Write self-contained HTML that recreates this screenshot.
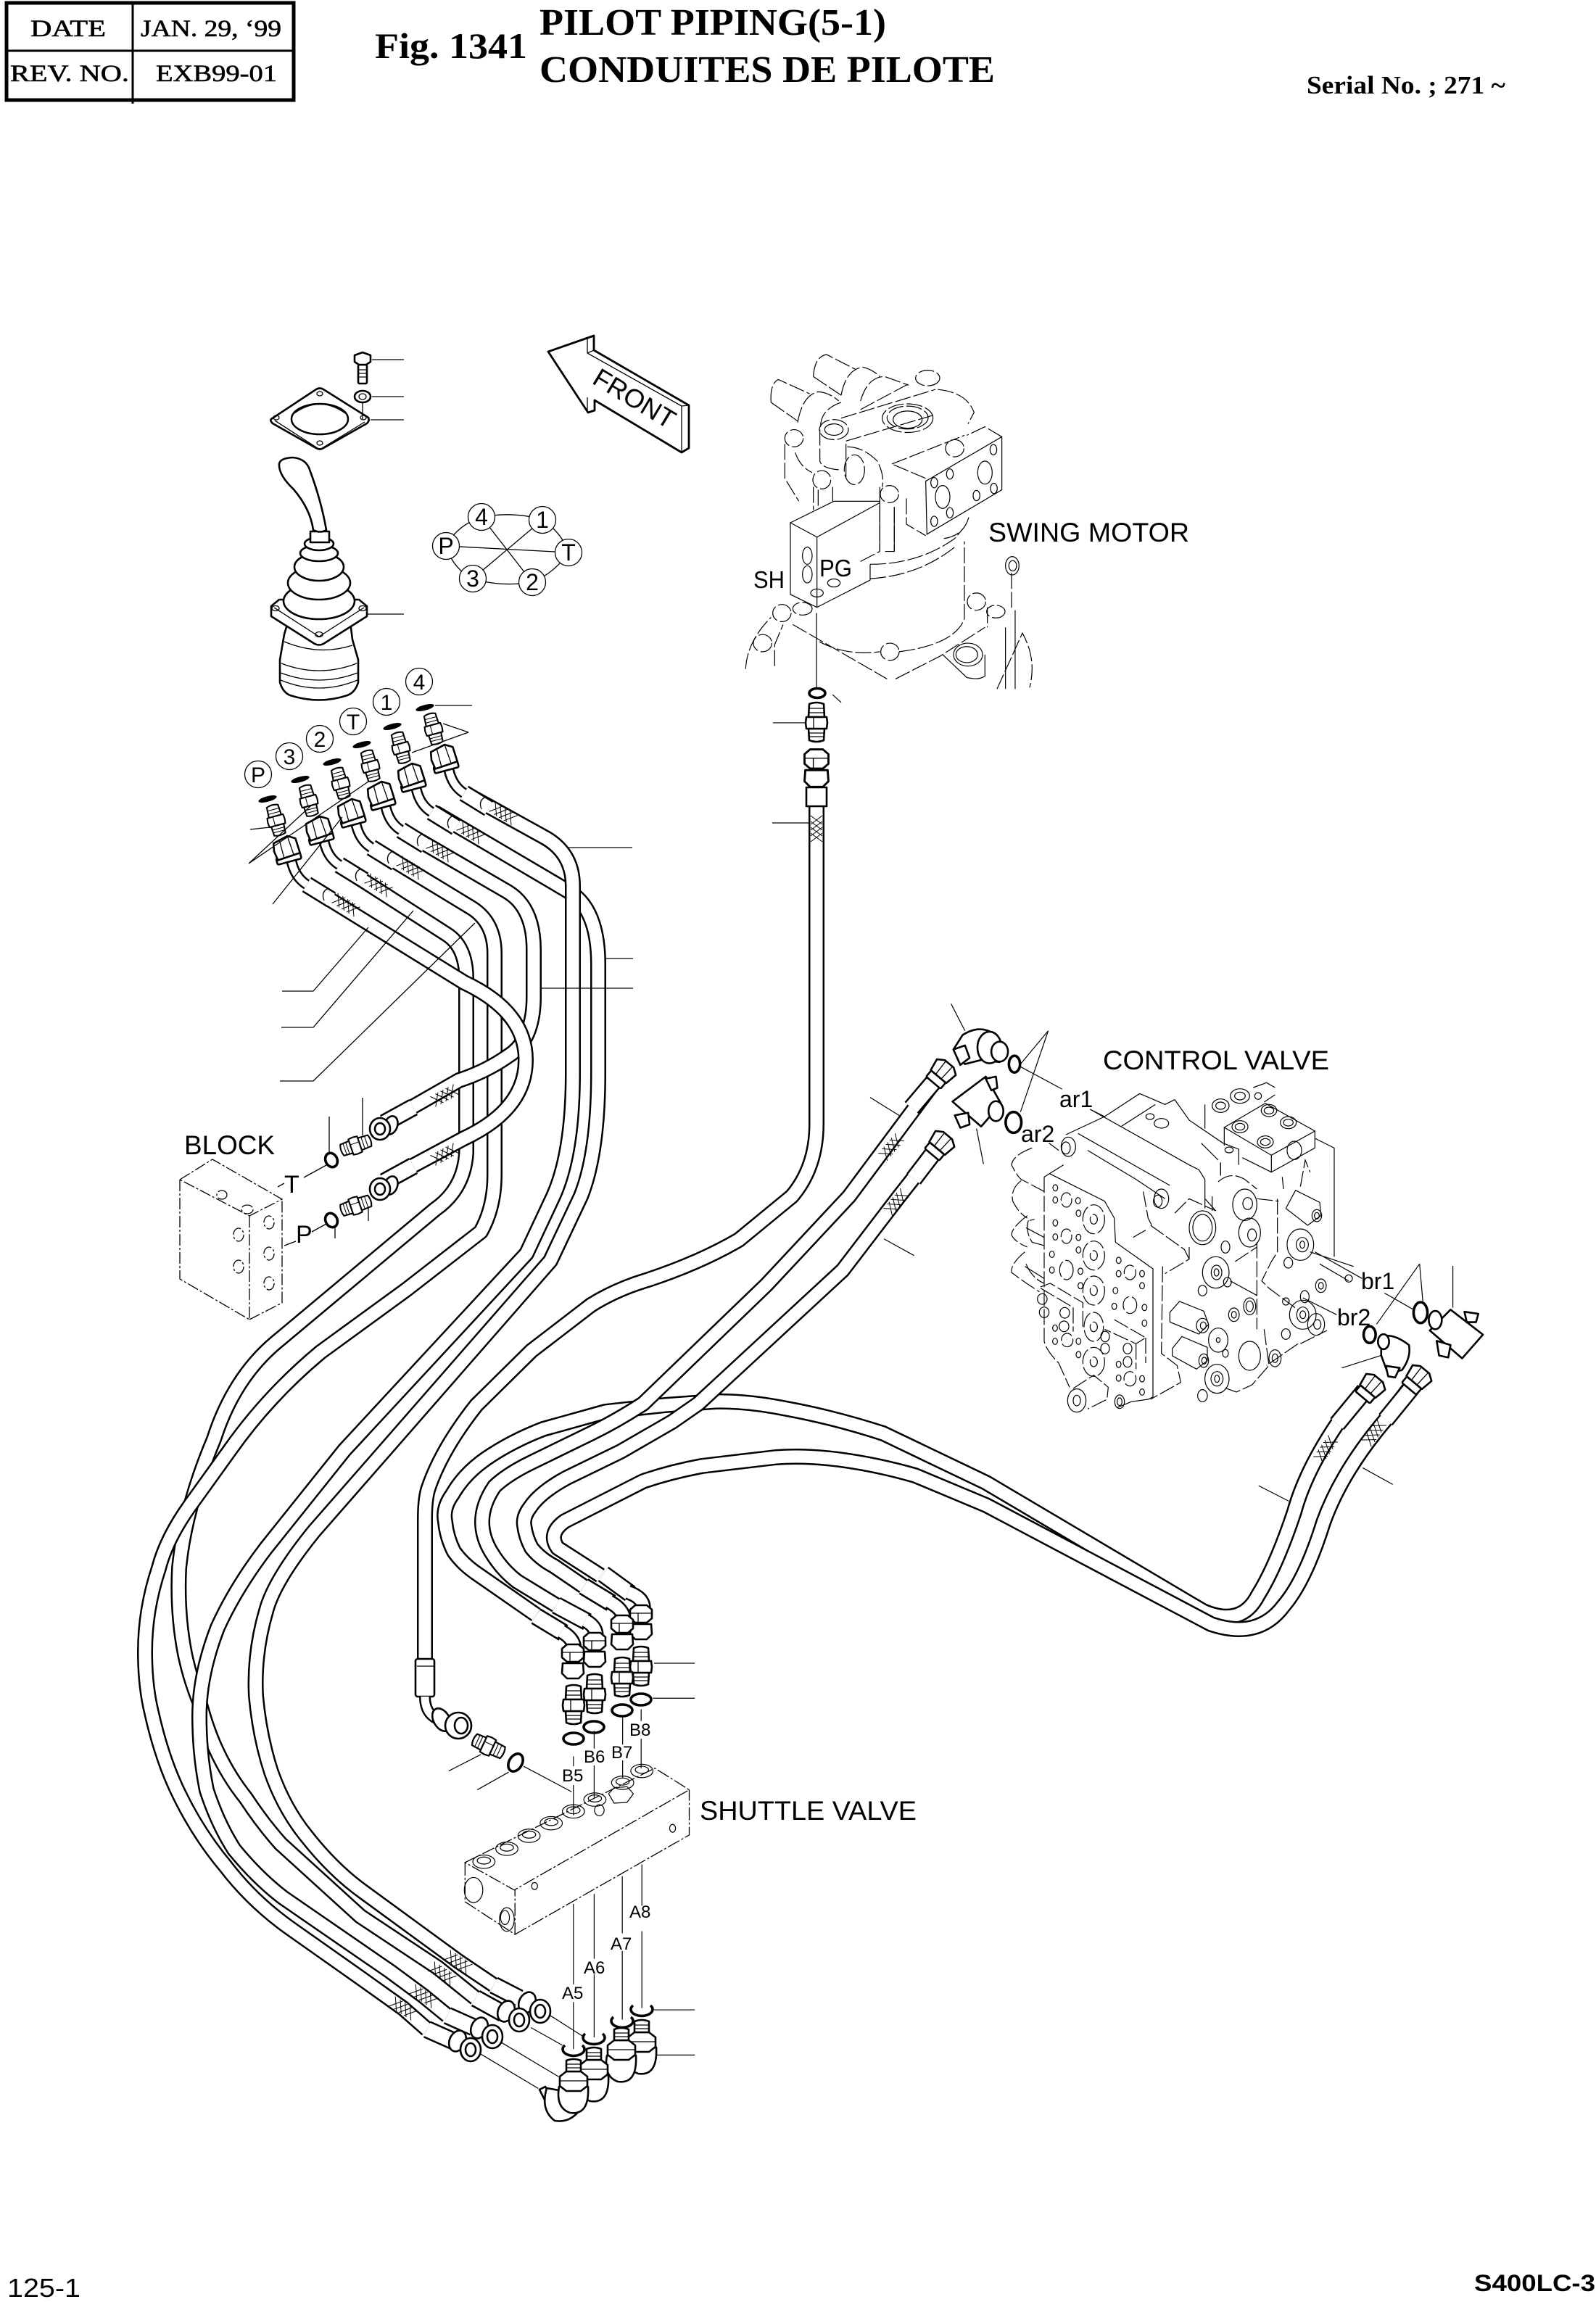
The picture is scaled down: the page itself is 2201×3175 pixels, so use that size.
<!DOCTYPE html>
<html><head><meta charset="utf-8"><style>
html,body{margin:0;padding:0;background:#fff}
svg{display:block}
text{font-family:"Liberation Sans",sans-serif;fill:#000}
.s{font-family:"Liberation Serif",serif;font-weight:bold}
.z *{vector-effect:non-scaling-stroke}
.th{fill:none;stroke:#000;stroke-width:1.2}
.da{fill:none;stroke:#000;stroke-width:1.2;stroke-dasharray:22 4}
.f{fill:#fff;stroke:#000;stroke-width:2.6;stroke-linejoin:round}
.ln{fill:none;stroke:#000;stroke-width:1.3}
.o{fill:none;stroke:#000;stroke-width:3.6}
</style></head><body>
<svg xmlns="http://www.w3.org/2000/svg" width="2201" height="3175" viewBox="0 0 2201 3175">
<rect width="2201" height="3175" fill="#fff"/>
<defs>
<path id="h1" d="M600 1121L785 1230Q825 1254 825 1330L825 1480Q825 1590 801 1650L759 1739L531 2000L433 2112Q378 2180 367 2222Q350 2280 353 2339Q358 2395 374 2444Q392 2495 423 2533Q460 2580 502 2610L632 2705L681 2738"/>
<path id="h4" d="M641 1094L753 1156Q790 1178 790 1222L790 1480Q790 1590 763 1650L726 1729L475 2000L367 2135Q325 2190 300 2245Q275 2310 275 2367Q275 2420 285 2469Q300 2515 323 2551Q355 2590 390 2617L538 2719L584 2753L617 2780"/>
<path id="h3" d="M472 1196L615 1288Q643 1305 643 1350L643 1590Q640 1640 600 1668L380 1852Q322 1901 295 1985Q255 2080 247 2163Q244 2225 255 2281Q262 2315 275 2347Q285 2385 298 2413Q315 2450 339 2480Q362 2515 387 2543L497 2643L604 2714L656 2756"/>
<path id="h2" d="M515 1170L650 1252Q682 1272 682 1315L682 1620Q682 1665 663 1699L560 1779L442 1865Q370 1925 317 2000L266 2071Q230 2120 219 2163Q200 2220 200 2278Q200 2325 209 2362Q222 2420 242 2464Q270 2525 311 2574Q350 2625 405 2663L500 2730L556 2770L589 2799"/>
<path id="hT" d="M557 1147L700 1230Q736 1252 736 1310L736 1375Q736 1435 700 1457Q670 1478 633 1490L530 1549"/>
<path id="hP" d="M428 1224L640 1355Q725 1395 725 1462Q725 1530 640 1570L530 1629"/>
<path id="hG" d="M1126 1090L1126 1550Q1126 1610 1092 1650L1019 1710Q966 1741 894 1765Q850 1778 815 1800L733 1863L657 1938Q608 2000 590 2055Q586 2070 586 2095L586 2300"/>
<path id="b1" d="M1892 1908L1844 1964Q1800 2030 1785 2085Q1760 2160 1735 2200Q1712 2245 1659 2222L1360 2045L1218 1977Q1150 1955 1085 1943Q1030 1932 986 1933L917 1938L835 1947L749 1971Q705 1988 670 2012Q640 2033 624 2061Q610 2080 614 2099Q616 2120 626 2140Q638 2157 657 2170L739 2227"/>
<path id="b2" d="M1956 1898L1911 1958Q1850 2030 1825 2100Q1800 2180 1770 2215Q1735 2262 1670 2240L1360 2076L1262 2035Q1210 2020 1157 2013Q1110 2007 1070 2010L968 2022Q925 2030 887 2043L779 2098Q755 2115 769 2135L828 2173"/>
<path id="r1" d="M1296 1482L1171 1650L1057 1772L887 1936Q850 1960 815 1977L733 2017Q700 2033 682 2050Q665 2075 665 2099Q665 2120 677 2140Q692 2165 713 2181L767 2214"/>
<path id="r2" d="M1295 1580L1240 1650L1162 1752L963 1936L927 1961L856 2002L782 2038Q745 2058 731 2079Q721 2092 723 2104Q725 2120 733 2135Q745 2150 764 2160L805 2188"/>
<g id="mesh" fill="none" stroke="#000" stroke-width="1"><path d="M-18 -8L-6 8M-10 -8L2 8M-2 -8L10 8M6 -8L18 8M-18 8L-6 -8M-10 8L2 -8M-2 8L10 -8M6 8L18 -8"/></g>
<g id="nv"><path class="f" d="M-10 -26Q0 -30 10 -26L11 -8L-11 -8Z"/><path class="f" d="M-11 8L11 8L10 24Q0 28 -10 24Z"/><path class="f" d="M-14 -8L14 -8L15 0L14 8L-14 8L-15 0Z"/><path class="ln" d="M-4 -8V8M-10 -20H10M-11 -14H11M-11 14H11M-10 19H10"/></g>
<g id="dn"><path class="f" d="M-14 2L14 2L15 16L8 23L-8 23L-15 16Z"/><path class="f" d="M-15 -18L-8 -24L8 -24L15 -18L15 -6L8 0L-8 0L-15 -6Z"/><path class="ln" d="M-15 -13H15M-4 -13V0"/></g>
<g id="rn"><rect class="f" x="-20" y="-13" width="11" height="26" rx="2"/><path class="f" d="M-9 -14L8 -17L14 -8L14 8L8 17L-9 14Z"/><path class="ln" d="M-9 -5L14 -6M-9 5L14 6"/></g>
<g id="port">
<ellipse rx="13" ry="3.8" transform="rotate(-15)" fill="#000"/>
<g transform="translate(12 30) rotate(-15) scale(.8)"><use href="#nv"/></g>
<path d="M33 86Q38 108 54 118" fill="none" stroke="#000" stroke-width="15"/>
<path d="M33 86Q38 108 54 118" fill="none" stroke="#fff" stroke-width="10"/>
<g transform="translate(26 70) rotate(-15)"><rect class="f" x="-17" y="8" width="34" height="9" rx="2"/><path class="f" d="M-15 -13L6 -18L16 -12L17 9L-15 11L-17 -2Z"/><path class="ln" d="M-6 -15L-6 10M6 -18L8 9"/></g>
<path d="M54 118L88 139" fill="none" stroke="#000" stroke-width="24"/>
<path d="M54 118L88 139" fill="none" stroke="#fff" stroke-width="19"/>
<path class="ln" stroke-width="2" d="M84 123Q73 128 78 140"/>
<g transform="translate(108 146) rotate(32)"><use href="#mesh"/></g>
</g>
<g id="bfit">
<g transform="translate(490 1580) rotate(71) scale(.8)"><use href="#nv"/></g>
<ellipse class="f" cx="539" cy="1552" rx="9" ry="13" transform="rotate(20 539 1552)"/>
<ellipse class="f" cx="524" cy="1557" rx="14" ry="15" stroke-width="3"/>
<ellipse class="f" cx="524" cy="1557" rx="7" ry="8"/>
<ellipse cx="457" cy="1600" rx="8" ry="10" class="o" transform="rotate(-25 457 1600)"/>
</g>
<g id="nutE"><ellipse class="f" cx="-18" cy="-12" rx="11" ry="15" transform="rotate(25 -18 -12)"/><ellipse class="f" cx="0" cy="0" rx="14" ry="16" stroke-width="3"/><ellipse class="f" cx="0" cy="0" rx="7" ry="9"/></g>
<g id="elb"><path class="f" d="M-20 6Q-25 35 -5 42Q22 46 20 6Z"/><path class="f" d="M-19 -8L-10 -15L10 -15L19 -8L19 5L10 12L-10 12L-19 5Z"/><path class="f" d="M-10 -15L-10 -30Q0 -34 10 -30L10 -15Z"/><path class="ln" d="M-10 -25H10M-10 -20H10M-19 -2H19"/></g>
</defs>

<!-- header -->
<rect x="9" y="4" width="396" height="134" fill="none" stroke="#000" stroke-width="5"/>
<path d="M183 4V143M9 70H405" stroke="#000" stroke-width="3" fill="none"/>
<text class="s" x="42" y="50" font-size="33" textLength="104" lengthAdjust="spacingAndGlyphs" style="font-weight:normal" stroke="#000" stroke-width=".6">DATE</text>
<text class="s" x="194" y="50" font-size="33" textLength="194" lengthAdjust="spacingAndGlyphs" style="font-weight:normal" stroke="#000" stroke-width=".6">JAN. 29, ‘99</text>
<text class="s" x="14" y="112" font-size="33" textLength="164" lengthAdjust="spacingAndGlyphs" style="font-weight:normal" stroke="#000" stroke-width=".6">REV. NO.</text>
<text class="s" x="215" y="112" font-size="33" textLength="167" lengthAdjust="spacingAndGlyphs" style="font-weight:normal" stroke="#000" stroke-width=".6">EXB99-01</text>
<text class="s" x="517" y="80" font-size="50" textLength="210" lengthAdjust="spacingAndGlyphs">Fig. 1341</text>
<text class="s" x="744" y="48" font-size="52" textLength="478" lengthAdjust="spacingAndGlyphs">PILOT PIPING(5-1)</text>
<text class="s" x="744" y="113" font-size="52" textLength="628" lengthAdjust="spacingAndGlyphs">CONDUITES DE PILOTE</text>
<text class="s" x="1802" y="129" font-size="35" textLength="274" lengthAdjust="spacingAndGlyphs">Serial No. ; 271 ~</text>

<!-- hoses -->
<g fill="none" stroke-linejoin="round">
<g stroke="#000" stroke-width="22"><use href="#h1"/></g><g stroke="#fff" stroke-width="17"><use href="#h1"/></g>
<g stroke="#000" stroke-width="22"><use href="#h3"/></g><g stroke="#fff" stroke-width="17"><use href="#h3"/></g>
<g stroke="#000" stroke-width="22"><use href="#h2"/></g><g stroke="#fff" stroke-width="17"><use href="#h2"/></g>
<g stroke="#000" stroke-width="22"><use href="#h4"/></g><g stroke="#fff" stroke-width="17"><use href="#h4"/></g>
<g stroke="#000" stroke-width="22"><use href="#hT"/></g><g stroke="#fff" stroke-width="17"><use href="#hT"/></g>
<g stroke="#000" stroke-width="22"><use href="#hP"/></g><g stroke="#fff" stroke-width="17"><use href="#hP"/></g>
<g stroke="#000" stroke-width="22"><use href="#hG"/></g><g stroke="#fff" stroke-width="17"><use href="#hG"/></g>
<g stroke="#000" stroke-width="22"><use href="#b1"/></g><g stroke="#fff" stroke-width="17"><use href="#b1"/></g>
<g stroke="#000" stroke-width="22"><use href="#b2"/></g><g stroke="#fff" stroke-width="17"><use href="#b2"/></g>
<g stroke="#000" stroke-width="22"><use href="#r1"/></g><g stroke="#fff" stroke-width="17"><use href="#r1"/></g>
<g stroke="#000" stroke-width="22"><use href="#r2"/></g><g stroke="#fff" stroke-width="17"><use href="#r2"/></g>
<path d="M530 1549L570 1527M530 1630L570 1608M1296 1482L1257 1528M1289 1588L1260 1626M1882 1918L1844 1964M1946 1915L1911 1958M832 2171L869 2198M805 2188L843 2211M767 2214L810 2237M739 2229L777 2252M681 2738L716 2756M656 2756L694 2777M617 2780L653 2796M589 2799L625 2815" stroke="#000" stroke-width="25"/>
<path d="M530 1549L570 1527M530 1630L570 1608M1296 1482L1257 1528M1289 1588L1260 1626M1882 1918L1844 1964M1946 1915L1911 1958M832 2171L869 2198M805 2188L843 2211M767 2214L810 2237M739 2229L777 2252M681 2738L716 2756M656 2756L694 2777M617 2780L653 2796M589 2799L625 2815" stroke="#fff" stroke-width="20"/>
</g>

<!-- meshes -->
<g transform="translate(613 1511) rotate(-28)"><use href="#mesh"/></g>
<g transform="translate(613 1592) rotate(-28)"><use href="#mesh"/></g>
<g transform="translate(1126 1143) rotate(90)"><use href="#mesh"/></g>
<g transform="translate(1229 1582) rotate(-50)"><use href="#mesh"/></g>
<g transform="translate(1236 1658) rotate(-50)"><use href="#mesh"/></g>
<g transform="translate(1828 1999) rotate(-55)"><use href="#mesh"/></g>
<g transform="translate(1895 1976) rotate(-55)"><use href="#mesh"/></g>
<g transform="translate(632 2706) rotate(33)"><use href="#mesh"/></g>
<g transform="translate(610 2722) rotate(33)"><use href="#mesh"/></g>
<g transform="translate(584 2753) rotate(33)"><use href="#mesh"/></g>
<g transform="translate(556 2770) rotate(33)"><use href="#mesh"/></g>

<!-- joystick ports -->
<use href="#port" transform="translate(586 976)"/>
<use href="#port" transform="translate(541 1002)"/>
<use href="#port" transform="translate(499 1027)"/>
<use href="#port" transform="translate(458 1051)"/>
<use href="#port" transform="translate(414 1075)"/>
<use href="#port" transform="translate(369 1102)"/>
<g fill="#fff" stroke="#000" stroke-width="1.3">
<circle cx="356" cy="1068" r="18.5"/><circle cx="399" cy="1043" r="18.5"/><circle cx="441" cy="1019" r="18.5"/><circle cx="487" cy="995" r="18.5"/><circle cx="533" cy="968" r="18.5"/><circle cx="578" cy="940" r="18.5"/>
</g>
<g font-size="30" text-anchor="middle">
<text x="356" y="1079">P</text><text x="399" y="1054">3</text><text x="441" y="1019" dy="11">2</text><text x="487" y="1006">T</text><text x="533" y="979">1</text><text x="578" y="951">4</text>
</g>

<!-- block fittings -->
<use href="#bfit"/><use href="#bfit" transform="translate(0 83)"/>

<!-- leaders -->
<path class="ln" d="M600 973H651M646 1010L611 998M646 1010L568 1038M343 1191L428 1112M343 1191L508 1078M345 1144L372 1141M376 1247L472 1127M389 1367H432L508 1279M388 1417H432L570 1256M386 1491H432L655 1273M783 1169H872M836 1322H873M747 1363H873M500 1514V1566M454 1540V1592M419 1624L450 1607M430 1699L450 1688M462 1691V1708M508 1666V1684M392 1718L408 1712M383 1637L392 1632"/>
<text x="254" y="1592" font-size="37" textLength="125" lengthAdjust="spacingAndGlyphs">BLOCK</text>
<text x="392" y="1645" font-size="34">T</text>
<text x="408" y="1714" font-size="34">P</text>

<!-- block box -->
<g fill="none" stroke="#000" stroke-width="1.3" stroke-dasharray="16 3 3 3">
<path d="M248 1627L293 1599L389 1654L344 1677ZM248 1627V1764L344 1820V1677M344 1820L389 1797V1654"/>
<ellipse cx="306" cy="1648" rx="7" ry="6"/><ellipse cx="341" cy="1668" rx="8" ry="6"/><ellipse cx="329" cy="1703" rx="7" ry="9"/><ellipse cx="329" cy="1747" rx="7" ry="9"/><ellipse cx="371" cy="1686" rx="7" ry="9"/><ellipse cx="371" cy="1729" rx="7" ry="9"/><ellipse cx="371" cy="1770" rx="7" ry="9"/>
</g>

<!-- gasket, bolt -->
<path class="f" stroke-width="3" d="M374 578L436 537Q441 534 446 537L508 576Q510 580 506 584L446 618Q441 621 436 618L376 584Q372 580 374 578Z"/>
<path class="ln" d="M379 580L441 620L503 582"/>
<ellipse cx="441" cy="578" rx="39" ry="21" fill="#fff" stroke="#000" stroke-width="2.5"/>
<path class="ln" d="M406 570Q441 545 476 570"/>
<g class="ln"><ellipse cx="441" cy="543" rx="4" ry="3"/><ellipse cx="381" cy="576" rx="4" ry="3"/><ellipse cx="501" cy="576" rx="4" ry="3"/><ellipse cx="441" cy="611" rx="4" ry="3"/></g>
<rect class="f" x="494" y="503" width="12" height="26" rx="2"/>
<path class="ln" d="M495 510H505M495 515H505M495 520H505"/>
<path class="f" d="M489 490L500 486L511 490L511 499L505 503L495 503L489 499Z"/>
<ellipse class="f" cx="500" cy="547" rx="11" ry="8"/><ellipse class="ln" cx="500" cy="547" rx="5" ry="4"/>
<path class="ln" d="M500 556V578M513 496H557M513 547H557M511 579H557M506 847H557"/>

<!-- joystick -->
<path class="f" stroke-width="3" d="M397 858L392 875L386 910L386 941Q390 955 400 959Q440 972 479 959Q490 955 494 941L494 910L486 882L483 858Z"/>
<path class="ln" d="M388 915Q440 935 492 915M387 928Q440 948 493 928M387 938Q440 960 493 938M392 885Q440 905 486 890"/>
<path class="f" stroke-width="3" d="M374 836L385 827L495 827L506 836L506 850L446 888Q440 891 434 888L374 850Z"/>
<path class="ln" d="M378 838L440 878L502 838"/><ellipse class="ln" cx="380" cy="839" rx="5" ry="3.5"/><ellipse class="ln" cx="500" cy="839" rx="5" ry="3.5"/><ellipse class="ln" cx="440" cy="875" rx="5" ry="3.5"/>
<g class="f" stroke-width="3">
<ellipse cx="440" cy="829" rx="49" ry="25"/><ellipse cx="440" cy="804" rx="43" ry="23"/><ellipse cx="440" cy="782" rx="34" ry="19"/><ellipse cx="440" cy="763" rx="26" ry="11"/><ellipse cx="440" cy="750" rx="20" ry="9"/>
<rect x="428" y="733" width="26" height="15"/>
</g>
<path class="f" stroke-width="3" d="M432 731Q428 702 405 675Q384 655 385 640Q386 632 403 631Q420 632 426 645Q443 690 450 731Q442 736 432 731Z"/>

<!-- connector diagram -->
<path class="ln" d="M615 753L784 762M664 713L734 803M748 717L652 798M615 753Q630 725 664 713M664 713Q710 705 748 717M748 717Q775 735 784 762M784 762Q765 790 734 803M734 803Q690 810 652 798M652 798Q625 785 615 753"/>
<g fill="#fff" stroke="#000" stroke-width="1.3"><circle cx="664" cy="713" r="18.5"/><circle cx="748" cy="717" r="18.5"/><circle cx="784" cy="762" r="18.5"/><circle cx="734" cy="803" r="18.5"/><circle cx="652" cy="798" r="18.5"/><circle cx="615" cy="753" r="18.5"/></g>
<g font-size="32" text-anchor="middle"><text x="664" y="724">4</text><text x="748" y="728">1</text><text x="784" y="773">T</text><text x="734" y="814">2</text><text x="652" y="809">3</text><text x="615" y="764">P</text></g>

<!-- front arrow -->
<path fill="#fff" stroke="#000" stroke-width="2.8" stroke-linejoin="round" d="M756 485L819 463L819 483L950 559L950 618L940 624L820 552L820 566L811 569Z"/>
<path class="ln" d="M810 467V487L940 560V622M810 548V568M810 487L819 483M940 560L950 559"/>
<text x="815" y="528" font-size="36" transform="rotate(31 815 528)" textLength="125" lengthAdjust="spacingAndGlyphs">FRONT</text>

<!-- swing motor (zoom coords) -->
<g class="z" transform="translate(1000 470) scale(.3333 .3953)">
<g class="da">
<path d="M190 215Q185 150 220 135L350 185M190 215L300 280M300 285Q320 190 385 178Q430 180 470 210M365 125Q370 55 420 48L540 100M365 125L480 190M480 190Q500 100 570 92Q610 100 640 125M560 210Q590 125 660 125L760 155M480 270L870 170M560 240L760 150M395 300Q395 240 480 215M500 350L860 260M880 170Q1000 180 1030 250L1005 290M392 310L392 420Q400 445 470 450M247 360L247 480L305 560M290 390Q310 440 360 460M365 510L365 590M385 520L385 585M445 510L445 560M505 370Q570 370 630 420Q660 470 650 510M690 430L990 330M1145 335L1075 300L1000 330M830 480L690 430M560 770L640 735M600 830Q800 820 950 720M600 780Q800 780 950 690L990 650M390 1050Q500 1100 640 1085M720 1085Q950 1060 990 970L990 700M280 990L670 1180M705 1180L890 1100L1075 1000M85 1145Q90 1050 190 965M205 1135V1060L240 990M1085 930L1085 1000M1125 1215L1230 1020Q1290 1110 1260 1210M500 360V480M640 510V735M700 580V735L650 735M750 550V640L830 680M905 690Q990 680 1010 610"/>
<path d="M1185 810V940"/>
<ellipse cx="838" cy="130" rx="50" ry="27"/><ellipse cx="755" cy="270" rx="105" ry="50"/><ellipse cx="755" cy="268" rx="85" ry="40"/><ellipse cx="450" cy="310" rx="60" ry="35"/><ellipse cx="285" cy="340" rx="38" ry="30"/><ellipse cx="400" cy="485" rx="37" ry="32"/>
<ellipse cx="535" cy="450" rx="42" ry="52"/><ellipse cx="680" cy="535" rx="38" ry="30"/><ellipse cx="950" cy="375" rx="38" ry="30"/>
<ellipse cx="235" cy="950" rx="38" ry="30"/><ellipse cx="155" cy="1055" rx="38" ry="30"/><ellipse cx="682" cy="1085" rx="38" ry="30"/><ellipse cx="1040" cy="910" rx="38" ry="30"/><ellipse cx="1120" cy="945" rx="38" ry="22"/><ellipse cx="320" cy="935" rx="40" ry="22"/>
</g>
<g class="th">
<ellipse cx="755" cy="275" rx="60" ry="30"/><ellipse cx="450" cy="310" rx="38" ry="20"/><path d="M830 490L1145 335V520L835 675Z"/>
<path d="M270 635L450 560L640 560M270 635L380 685V930L270 885ZM380 685L640 565M380 930L600 835V780M640 565V735M700 580V735"/>
<ellipse cx="1005" cy="1095" rx="60" ry="40"/><ellipse cx="1000" cy="1095" rx="45" ry="28"/>
<ellipse cx="1188" cy="785" rx="28" ry="32"/><ellipse cx="1190" cy="785" rx="16" ry="18"/>
<path d="M1160 1000V1215M1200 940V1215M1075 1095V1170Q1050 1185 1000 1175L900 1095M378 950V1210M445 1235L480 1262M198 1333H332"/>
<ellipse cx="340" cy="750" rx="20" ry="30"/><ellipse cx="340" cy="815" rx="20" ry="30"/><ellipse cx="900" cy="545" rx="30" ry="40"/><ellipse cx="1075" cy="460" rx="30" ry="40"/><ellipse cx="450" cy="845" rx="26" ry="14"/><ellipse cx="380" cy="880" rx="26" ry="14"/><ellipse cx="865" cy="630" rx="14" ry="18"/><ellipse cx="930" cy="600" rx="14" ry="18"/><ellipse cx="1040" cy="540" rx="14" ry="18"/><ellipse cx="1112" cy="515" rx="14" ry="18"/><ellipse cx="930" cy="465" rx="14" ry="18"/><ellipse cx="1110" cy="380" rx="14" ry="18"/><ellipse cx="865" cy="495" rx="14" ry="18"/>
</g>
</g>
<text x="1363" y="747" font-size="37" textLength="277" lengthAdjust="spacingAndGlyphs">SWING MOTOR</text>
<text x="1039" y="811" font-size="33" textLength="43" lengthAdjust="spacingAndGlyphs">SH</text>
<text x="1130" y="795" font-size="33" textLength="45" lengthAdjust="spacingAndGlyphs">PG</text>
<ellipse cx="1127" cy="956" rx="11" ry="6.5" class="o"/>
<use href="#nv" transform="translate(1126 997)"/>
<use href="#dn" transform="translate(1126 1060) scale(1.1)"/>
<rect class="f" x="1112" y="1086" width="28" height="26"/>
<path class="ln" d="M1065 1135H1116"/>
<rect class="f" x="573" y="2288" width="26" height="52" rx="3"/>
<path d="M586 2340Q586 2365 606 2372" fill="none" stroke="#000" stroke-width="16"/><path d="M586 2340Q586 2365 606 2372" fill="none" stroke="#fff" stroke-width="11"/>
<path class="ln" d="M575 2298H598"/>

<!-- left fitting by shuttle -->
<ellipse class="f" cx="609" cy="2372" rx="11" ry="17" transform="rotate(-30 609 2372)"/>
<ellipse class="f" cx="632" cy="2380" rx="18" ry="18" stroke-width="3"/><ellipse class="f" cx="636" cy="2380" rx="9" ry="11"/>
<g transform="translate(673 2408) rotate(115) scale(.85)"><use href="#nv"/></g>
<ellipse cx="711" cy="2431" rx="9" ry="13" class="o" transform="rotate(30 711 2431)"/>

<!-- control valve body (traced) -->
<g class="z" transform="translate(1380 1480) scale(.33333)">
<g class="th">
<path d="M270 255L430 180L575 85L680 130L720 110L780 195L920 290L985 315V380M370 150L780 380L820 400L845 440V520L890 570M925 225L1095 125L1300 240L1120 340ZM925 225V300M1120 340V410L1300 310V240M1120 410L1000 350M845 130V230M1135 60L1100 40L1045 60M1135 90L1090 120M1300 270L1380 310V760M910 370V420M180 430L260 380"/>
<path d="M200 415L430 530L470 600L475 700L630 810V1340L610 1350L540 1360L480 1385M320 250L700 465M360 320L560 440L680 520M500 220L640 130M830 290L900 360"/>
<path d="M1460 800L1280 740M1320 790L1440 860M950 860L1060 920M1250 930L1390 1000M1300 740L1495 850M370 150L430 180M200 290L240 320"/>
</g>
<g class="da">
<path d="M180 430V1110Q190 1150 240 1200L285 1300M130 310Q50 340 45 380Q70 430 85 440L180 490M85 445Q40 480 50 530Q75 580 110 600M110 590Q45 640 45 670Q60 700 110 720M100 740Q40 790 45 825Q90 860 160 905M115 610Q100 650 130 700L185 715M105 790Q130 850 180 870M670 800L665 1160L730 1210L745 1280L620 1350M780 720V770L680 830M548 680L600 650M620 630L760 730L780 770M910 370V425M900 450Q950 405 1010 440L1060 480M1060 700V1060M845 520V560M875 510V570M1060 520L1150 530M1145 520V740L1120 780L1080 860L1110 890L1230 980M1240 1120L1350 1065M1230 1120L1100 1210M1090 1060L1110 1210L1040 1290L975 1320L920 1300M970 780L1060 720M1165 430L1170 480M1240 470L1260 360L1280 410M720 580L780 520L890 570M590 490L610 600L630 640M165 885L205 870L340 950V1050M300 970V1070M165 890L300 970M470 1020L600 1095L560 1120L430 1060M560 1120V1225M600 1095V1200M300 1305L385 1250L445 1300L440 1350L360 1390"/>
</g>
<g class="th">
<ellipse cx="990" cy="95" rx="40" ry="30"/><ellipse cx="990" cy="95" rx="22" ry="16"/><ellipse cx="910" cy="135" rx="35" ry="28"/><ellipse cx="910" cy="135" rx="20" ry="15"/><ellipse cx="1065" cy="95" rx="14" ry="14"/><ellipse cx="1110" cy="155" rx="32" ry="25"/><ellipse cx="1190" cy="205" rx="33" ry="25"/><ellipse cx="990" cy="222" rx="33" ry="25"/><ellipse cx="1095" cy="285" rx="33" ry="25"/><ellipse cx="1215" cy="320" rx="30" ry="38"/><ellipse cx="1110" cy="155" rx="20" ry="14"/><ellipse cx="1190" cy="205" rx="20" ry="14"/><ellipse cx="990" cy="222" rx="20" ry="14"/><ellipse cx="1095" cy="285" rx="20" ry="14"/>
<ellipse cx="665" cy="208" rx="30" ry="20"/><ellipse cx="618" cy="180" rx="17" ry="12"/><ellipse cx="945" cy="318" rx="17" ry="12"/>
<ellipse cx="280" cy="305" rx="30" ry="40"/><ellipse cx="270" cy="310" rx="18" ry="25"/><ellipse cx="665" cy="520" rx="30" ry="40"/><ellipse cx="650" cy="530" rx="18" ry="25"/>
<ellipse cx="835" cy="640" rx="55" ry="70"/><ellipse cx="835" cy="640" rx="40" ry="55"/>
<ellipse cx="1010" cy="545" rx="50" ry="65"/><ellipse cx="1022" cy="540" rx="20" ry="25"/><ellipse cx="1030" cy="660" rx="45" ry="60"/><ellipse cx="1040" cy="670" rx="18" ry="25"/>
<path d="M1180 560L1220 485L1320 535L1325 590L1270 630Z"/><ellipse cx="1308" cy="590" rx="20" ry="25"/><ellipse cx="1308" cy="590" rx="10" ry="13"/>
<ellipse cx="890" cy="825" rx="55" ry="65"/><ellipse cx="893" cy="825" rx="22" ry="30"/><ellipse cx="893" cy="825" rx="10" ry="15"/>
<ellipse cx="1240" cy="710" rx="55" ry="65"/><ellipse cx="1248" cy="710" rx="25" ry="30"/><ellipse cx="1248" cy="710" rx="10" ry="15"/>
<ellipse cx="1250" cy="1000" rx="55" ry="60"/><ellipse cx="1250" cy="1000" rx="25" ry="32"/><ellipse cx="1250" cy="1000" rx="12" ry="16"/><ellipse cx="1305" cy="1040" rx="35" ry="45"/><ellipse cx="1310" cy="1040" rx="15" ry="20"/>
<ellipse cx="895" cy="1265" rx="50" ry="60"/><ellipse cx="895" cy="1265" rx="25" ry="30"/><ellipse cx="895" cy="1265" rx="10" ry="15"/>
<ellipse cx="900" cy="1105" rx="40" ry="50"/><ellipse cx="900" cy="1105" rx="8" ry="10"/><ellipse cx="1030" cy="1170" rx="45" ry="60"/><ellipse cx="965" cy="1000" rx="22" ry="28"/><ellipse cx="965" cy="1000" rx="10" ry="14"/><ellipse cx="1030" cy="965" rx="25" ry="35"/><ellipse cx="1030" cy="965" rx="15" ry="22"/><ellipse cx="1325" cy="880" rx="22" ry="28"/><ellipse cx="1325" cy="880" rx="10" ry="14"/>
<ellipse cx="1135" cy="1180" rx="25" ry="35"/><ellipse cx="1135" cy="1180" rx="12" ry="18"/>
<ellipse cx="930" cy="720" rx="18" ry="25"/><ellipse cx="835" cy="900" rx="18" ry="22"/><ellipse cx="938" cy="865" rx="16" ry="20"/><ellipse cx="1190" cy="785" rx="18" ry="22"/><ellipse cx="1180" cy="1080" rx="18" ry="22"/><ellipse cx="1258" cy="925" rx="18" ry="25"/><ellipse cx="1180" cy="945" rx="14" ry="15"/><ellipse cx="835" cy="1335" rx="20" ry="25"/><ellipse cx="930" cy="1160" rx="12" ry="16"/><ellipse cx="1440" cy="850" rx="15" ry="15"/>
<path d="M700 990L740 945L840 985L860 1040L820 1080L700 1030Z"/><ellipse cx="835" cy="1045" rx="25" ry="30"/><ellipse cx="838" cy="1045" rx="12" ry="15"/>
<path d="M710 1140L750 1090L855 1135L855 1190L810 1225L710 1170Z"/><ellipse cx="840" cy="1190" rx="20" ry="28"/><ellipse cx="842" cy="1190" rx="10" ry="14"/>
<ellipse cx="315" cy="1355" rx="38" ry="48"/><ellipse cx="315" cy="1355" rx="15" ry="22"/><ellipse cx="492" cy="1360" rx="20" ry="28"/><ellipse cx="492" cy="1360" rx="10" ry="16"/>
<ellipse cx="172" cy="935" rx="20" ry="22"/><ellipse cx="180" cy="990" rx="20" ry="22"/><ellipse cx="265" cy="992" rx="20" ry="22"/><ellipse cx="262" cy="1048" rx="20" ry="22"/>
<ellipse cx="432" cy="1090" rx="18" ry="22"/><ellipse cx="432" cy="1140" rx="18" ry="22"/><ellipse cx="525" cy="1140" rx="18" ry="22"/><ellipse cx="525" cy="1195" rx="18" ry="22"/>
<path d="M120 610L140 605M105 640L180 680M100 800L180 850"/>
</g>
<g class="da" stroke-dasharray="16 4">
<ellipse cx="385" cy="605" rx="45" ry="60"/><ellipse cx="385" cy="755" rx="45" ry="60"/><ellipse cx="385" cy="900" rx="45" ry="60"/><ellipse cx="385" cy="1050" rx="40" ry="60"/><ellipse cx="385" cy="1195" rx="45" ry="60"/>
<ellipse cx="385" cy="605" rx="15" ry="20"/><ellipse cx="385" cy="755" rx="15" ry="20"/><ellipse cx="385" cy="900" rx="15" ry="20"/><ellipse cx="385" cy="1050" rx="15" ry="20"/><ellipse cx="385" cy="1195" rx="15" ry="20"/>
<ellipse cx="272" cy="525" rx="22" ry="30"/><ellipse cx="272" cy="675" rx="22" ry="30"/><ellipse cx="272" cy="815" rx="28" ry="40"/><ellipse cx="275" cy="1105" rx="24" ry="28"/><ellipse cx="535" cy="825" rx="24" ry="30"/><ellipse cx="535" cy="960" rx="28" ry="35"/><ellipse cx="535" cy="1265" rx="25" ry="30"/>
</g>
<g class="th">
<ellipse cx="226" cy="475" rx="10" ry="13"/><ellipse cx="226" cy="525" rx="10" ry="13"/><ellipse cx="320" cy="528" rx="10" ry="13"/><ellipse cx="322" cy="580" rx="10" ry="13"/><ellipse cx="226" cy="620" rx="10" ry="13"/><ellipse cx="226" cy="678" rx="10" ry="13"/><ellipse cx="322" cy="680" rx="10" ry="13"/><ellipse cx="322" cy="732" rx="10" ry="13"/><ellipse cx="212" cy="750" rx="10" ry="13"/><ellipse cx="212" cy="815" rx="10" ry="13"/><ellipse cx="330" cy="820" rx="10" ry="13"/><ellipse cx="330" cy="880" rx="10" ry="13"/><ellipse cx="225" cy="1055" rx="10" ry="13"/><ellipse cx="225" cy="1110" rx="10" ry="13"/><ellipse cx="322" cy="1110" rx="10" ry="13"/><ellipse cx="322" cy="1165" rx="10" ry="13"/><ellipse cx="488" cy="775" rx="10" ry="13"/><ellipse cx="488" cy="830" rx="10" ry="13"/><ellipse cx="585" cy="830" rx="10" ry="13"/><ellipse cx="585" cy="880" rx="10" ry="13"/><ellipse cx="475" cy="900" rx="10" ry="13"/><ellipse cx="470" cy="965" rx="10" ry="13"/><ellipse cx="595" cy="970" rx="10" ry="13"/><ellipse cx="595" cy="1035" rx="10" ry="13"/><ellipse cx="488" cy="1205" rx="10" ry="13"/><ellipse cx="488" cy="1262" rx="10" ry="13"/><ellipse cx="585" cy="1265" rx="10" ry="13"/><ellipse cx="585" cy="1320" rx="10" ry="13"/>
</g>
</g>

<!-- ar / br fittings -->
<g class="z" transform="translate(1200 1350) scale(.6378 .574)">
<path class="th" d="M323 210L415 265M325 205L385 125M325 320L385 125M230 360L245 445M175 60L205 125M0 285L65 330M30 625L95 665M840 1218L905 1255M1065 1175L1130 1215M1260 690V790M1188 685L1195 775M1188 685L1095 830M1112 755L1175 795M1020 935L1105 905"/>
<g fill="#fff" stroke="#000" stroke-width="2.6" stroke-linejoin="round">
<path d="M180 170L200 135Q235 110 265 130L290 170L280 200L240 195L205 205Z"/>
<ellipse cx="258" cy="165" rx="26" ry="38"/><ellipse cx="280" cy="175" rx="18" ry="24"/>
<path d="M180 170L205 160L215 190L195 207Z"/>
<path d="M178 295L250 235L283 300L240 355Z"/><path d="M250 240L272 235L275 262L262 268Z"/><ellipse cx="272" cy="318" rx="16" ry="24"/><path d="M183 328L212 322L215 350L195 358Z"/>
<path d="M1210 845L1255 795L1325 855L1280 912Z"/><path d="M1285 800L1315 805L1310 825L1290 825Z"/><path d="M1225 870L1255 880L1250 910L1230 905Z"/><ellipse cx="1222" cy="820" rx="14" ry="22"/>
<path d="M1105 860Q1130 850 1165 880Q1170 910 1150 940L1120 950L1105 905Z"/><ellipse cx="1110" cy="872" rx="12" ry="18"/><path d="M1115 930L1145 935L1135 958L1120 955Z"/>
</g>
<g fill="none" stroke="#000" stroke-width="3.6"><ellipse cx="312" cy="205" rx="12" ry="20"/><ellipse cx="310" cy="345" rx="17" ry="25"/><ellipse cx="1190" cy="802" rx="15" ry="25"/><ellipse cx="1080" cy="855" rx="13" ry="20"/></g>
</g>
<use href="#rn" transform="translate(1300 1478) rotate(-50)"/>
<use href="#rn" transform="translate(1298 1577) rotate(-50)"/>
<use href="#rn" transform="translate(1892 1912) rotate(-50)"/>
<use href="#rn" transform="translate(1956 1900) rotate(-50)"/>
<text x="1521" y="1475" font-size="37" textLength="312" lengthAdjust="spacingAndGlyphs">CONTROL VALVE</text>
<text x="1461" y="1527" font-size="32">ar1</text>
<text x="1408" y="1575" font-size="32">ar2</text>
<text x="1877" y="1778" font-size="32">br1</text>
<text x="1844" y="1828" font-size="32">br2</text>

<!-- shuttle valve (zoom coords) -->
<g class="z" transform="translate(500 2100) scale(.5102 .542)">
<g fill="none" stroke="#000" stroke-width="1.3" stroke-dasharray="18 3 3 3">
<path d="M277 865L790 625L883 680L410 935ZM277 865V965L412 1048V935M412 1048L883 795V680"/>
</g>
<g class="th">
<ellipse cx="328" cy="863" rx="30" ry="17"/><ellipse cx="328" cy="860" rx="18" ry="9"/><ellipse cx="390" cy="830" rx="30" ry="17"/><ellipse cx="390" cy="827" rx="18" ry="9"/><ellipse cx="450" cy="797" rx="30" ry="17"/><ellipse cx="450" cy="794" rx="18" ry="9"/><ellipse cx="510" cy="765" rx="30" ry="17"/><ellipse cx="510" cy="762" rx="18" ry="9"/><ellipse cx="570" cy="735" rx="30" ry="17"/><ellipse cx="570" cy="732" rx="18" ry="9"/><ellipse cx="628" cy="705" rx="30" ry="17"/><ellipse cx="628" cy="702" rx="18" ry="9"/><ellipse cx="703" cy="662" rx="30" ry="17"/><ellipse cx="703" cy="659" rx="18" ry="9"/><ellipse cx="755" cy="632" rx="30" ry="17"/><ellipse cx="755" cy="629" rx="18" ry="9"/>
<path d="M665 690L680 675L715 672L732 690L715 712L680 714Z"/><ellipse cx="640" cy="732" rx="13" ry="14"/>
<ellipse cx="300" cy="935" rx="25" ry="32"/><ellipse cx="390" cy="1010" rx="20" ry="30"/><ellipse cx="385" cy="1005" rx="12" ry="18"/><ellipse cx="465" cy="925" rx="8" ry="9"/><ellipse cx="838" cy="778" rx="8" ry="10"/>
<path d="M753 475V505M753 550V625M703 495V565M703 605V650M626 530V575M626 618V700M570 595V620M570 668V745"/>
<path d="M755 870V975M755 1040V1235M702 900V1045M702 1090V1265M626 945V1110M626 1150V1310M570 970V1175M570 1220V1340"/>
<path d="M788 358H898M785 447H898M788 1240H898M785 1355H898"/>
<path d="M233 632L320 590M310 680L395 635M435 620L565 685M500 1250L600 1310M455 1285L540 1330M370 1320L530 1410M315 1350L475 1440"/>
</g>
</g>
<text x="965" y="2510" font-size="37" textLength="299" lengthAdjust="spacingAndGlyphs">SHUTTLE VALVE</text>
<g font-size="24">
<text x="868" y="2394">B8</text><text x="843" y="2425">B7</text><text x="805" y="2431">B6</text><text x="775" y="2457">B5</text>
<text x="868" y="2645">A8</text><text x="842" y="2689">A7</text><text x="805" y="2722">A6</text><text x="775" y="2757">A5</text>
</g>

<!-- shuttle side B fittings -->
<g fill="none">
<path d="M866 2196Q892 2205 886 2224" stroke="#000" stroke-width="21"/><path d="M866 2196Q892 2205 886 2224" stroke="#fff" stroke-width="16"/>
<path d="M840 2209Q864 2222 859 2238" stroke="#000" stroke-width="21"/><path d="M840 2209Q864 2222 859 2238" stroke="#fff" stroke-width="16"/>
<path d="M807 2235Q826 2245 821 2262" stroke="#000" stroke-width="21"/><path d="M807 2235Q826 2245 821 2262" stroke="#fff" stroke-width="16"/>
<path d="M774 2250Q795 2262 791 2278" stroke="#000" stroke-width="21"/><path d="M774 2250Q795 2262 791 2278" stroke="#fff" stroke-width="16"/>
</g>
<use href="#dn" transform="translate(884 2238)"/>
<use href="#dn" transform="translate(858 2252)"/>
<use href="#dn" transform="translate(820 2276)"/>
<use href="#dn" transform="translate(790 2292)"/>
<use href="#nv" transform="translate(884 2299)"/>
<use href="#nv" transform="translate(858 2314)"/>
<use href="#nv" transform="translate(820 2337)"/>
<use href="#nv" transform="translate(791 2352)"/>
<g class="o"><ellipse cx="884" cy="2344" rx="14" ry="8"/><ellipse cx="858" cy="2359" rx="14" ry="8"/><ellipse cx="819" cy="2382" rx="14" ry="8"/><ellipse cx="791" cy="2398" rx="14" ry="8"/></g>

<!-- lower hose ends -->
<use href="#nutE" transform="translate(745 2774)"/>
<use href="#nutE" transform="translate(716 2786)"/>
<use href="#nutE" transform="translate(679 2809)"/>
<use href="#nutE" transform="translate(649 2827)"/>

<!-- lower elbows -->
<use href="#elb" transform="translate(885 2818)"/>
<use href="#elb" transform="translate(857 2829)"/>
<use href="#elb" transform="translate(819 2856)"/>
<path class="f" d="M744 2882L752 2878L762 2896L754 2902Z"/>
<path class="f" d="M754 2880Q745 2910 765 2925Q795 2930 810 2890Z"/>
<use href="#elb" transform="translate(791 2872)"/>
<g class="o"><path d="M873 2766A15 9 0 1 0 897 2766"/><path d="M846 2782A15 9 0 1 0 870 2782"/><path d="M807 2805A15 9 0 1 0 831 2805"/><path d="M779 2821A15 9 0 1 0 803 2821"/></g>

<!-- footer -->
<text x="10" y="3168" font-size="36" textLength="101" lengthAdjust="spacingAndGlyphs">125-1</text>
<text x="2033" y="3160" font-size="32" font-weight="bold" textLength="167" lengthAdjust="spacingAndGlyphs">S400LC-3</text>
</svg>
</body></html>
